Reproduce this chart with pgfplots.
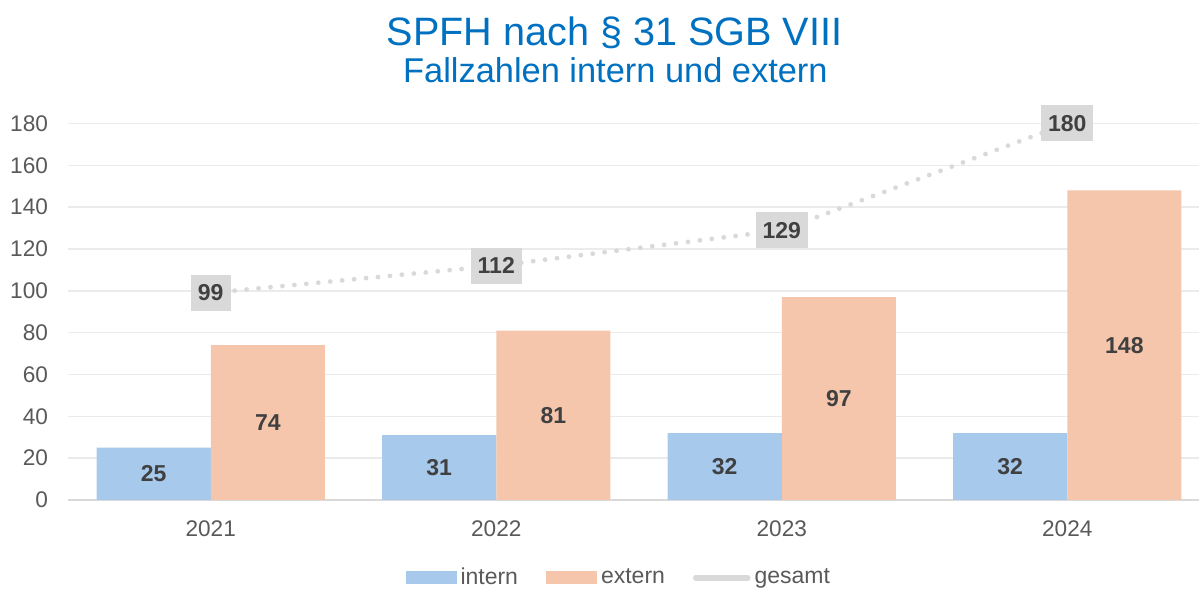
\documentclass[border=0pt]{standalone}
\usepackage{pgfplots}
\pgfplotsset{compat=1.18}
\usepackage{fontspec}
\setmainfont{Liberation Sans}
\definecolor{intern}{HTML}{A7C9EC}
\definecolor{extern}{HTML}{F5C6AB}
\definecolor{ges}{HTML}{D9D9D9}
\definecolor{tickc}{HTML}{595959}
\definecolor{lab}{HTML}{404040}
\definecolor{titl}{HTML}{0070C0}
\definecolor{gridc}{HTML}{EBEBEB}
\begin{document}
\begin{tikzpicture}
\useasboundingbox (0,0) rectangle (600pt,296pt);
\node[anchor=base, text=titl, font=\fontsize{19.8}{23}\selectfont] at (307.3pt,273.2pt) {SPFH nach § 31 SGB VIII};
\node[anchor=base, text=titl, font=\fontsize{17.2}{20}\selectfont] at (307.7pt,254.5pt) {Fallzahlen intern und extern};
\begin{axis}[
  at={(34pt,46pt)}, anchor=south west,
  width=565.3pt, height=188.25pt, scale only axis,
  xmin=-0.5, xmax=3.46, ymin=0, ymax=180,
  clip=false,
  axis x line*=bottom, axis y line*=left,
  y axis line style={draw=none},
  x axis line style={draw=ges, line width=0.75pt, -},
  major tick length=0,
  ytick={0,20,...,180},
  xtick={0,1,2,3}, xticklabels={2021,2022,2023,2024},
  ymajorgrids, grid style={draw=gridc, line width=0.75pt},
  /pgf/number format/assume math mode=true,
  tick label style={font=\fontsize{11.3}{13}\selectfont, text=tickc},
  yticklabel style={xshift=-6.5pt},
  xticklabel style={yshift=-7pt},
  legend style={at={(0.488,-0.207)}, anchor=center, draw=none, fill=none,
    legend columns=3, font=\fontsize{11.5}{13}\selectfont, text=tickc,
    /tikz/every even column/.append style={column sep=12pt}},
]
\addplot[ybar, bar width=0.4, bar shift=-0.2, fill=intern, draw=none,
  visualization depends on=rawy \as \rawy,
  nodes near coords,
  every node near coord/.append style={anchor=center, text=lab, font=\bfseries\fontsize{11.5}{13}\selectfont, shift={(axis direction cs:-0.2,-\rawy/2)}},
  legend image code/.code={\fill[intern] (0pt,-3.25pt) rectangle (25.5pt,3.25pt);}]
  coordinates {(0,25) (1,31) (2,32) (3,32)};
\addlegendentry{intern}
\addplot[ybar, bar width=0.4, bar shift=0.2, fill=extern, draw=none,
  visualization depends on=rawy \as \rawy,
  nodes near coords,
  every node near coord/.append style={anchor=center, text=lab, font=\bfseries\fontsize{11.5}{13}\selectfont, shift={(axis direction cs:0.2,-\rawy/2)}},
  legend image code/.code={\fill[extern] (0pt,-3.25pt) rectangle (25.5pt,3.25pt);}]
  coordinates {(0,74) (1,81) (2,97) (3,148)};
\addlegendentry{extern}
\addplot[ges, line width=2.4pt, line cap=round, dash pattern=on 0pt off 6pt, mark=none,
  nodes near coords,
  every node near coord/.append style={anchor=center, fill=ges, text=lab, solid,
    font=\bfseries\fontsize{11.5}{13}\selectfont, inner xsep=3.5pt, minimum height=18pt},
  legend image code/.code={\draw[ges, solid, line width=2.8pt, line cap=round] (0pt,0pt) -- (26pt,0pt);}]
  coordinates {(0,99) (1,112) (2,129) (3,180)};
\addlegendentry{gesamt}
\end{axis}
\end{tikzpicture}
\end{document}
